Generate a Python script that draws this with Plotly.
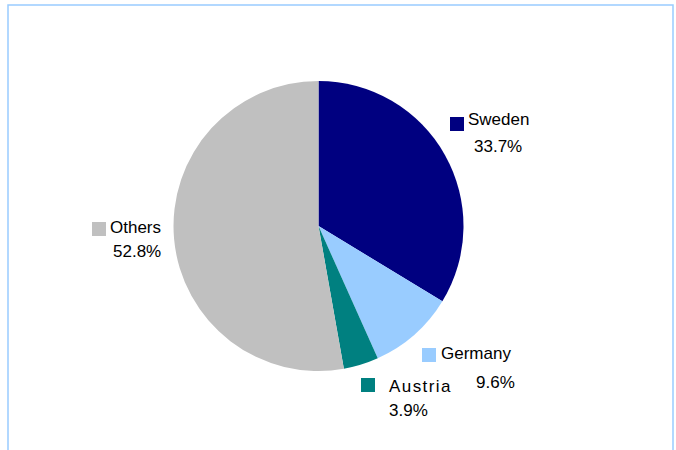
import plotly.graph_objects as go

countries = ["Sweden", "Germany", "Austria", "Others"]
shares = [33.7, 9.6, 3.9, 52.8]
colors = ["#000080", "#99CCFF", "#008080", "#C0C0C0"]

W, H = 676, 450
cx, cy, r = 318.5, 226, 145

fig = go.Figure(
    go.Pie(
        labels=countries,
        values=shares,
        sort=False,
        direction="clockwise",
        rotation=0,
        marker=dict(colors=colors, line=dict(width=0)),
        textinfo="none",
        hoverinfo="label+percent",
        domain=dict(x=[(cx - r) / W, (cx + r) / W], y=[(H - cy - r) / H, (H - cy + r) / H]),
    )
)

# label layout: (key square x, y, name x, name y, pct x, pct y) in pixels
label_pos = {
    "Sweden": (450, 117, 466, 120, 498, 146),
    "Germany": (422, 348, 439, 353, 495.5, 382),
    "Austria": (361, 378, 387, 386, 408.5, 410),
    "Others": (92, 222, 108, 227, 136.5, 251),
}


def px(x):
    return x / W


def py(y):
    return 1 - y / H


font = dict(family="Liberation Sans, Arial, sans-serif", size=17, color="#000000")
shapes = []
annotations = []
for name, val, col in zip(countries, shares, colors):
    kx, ky, nx, ny, tx, ty = label_pos[name]
    shapes.append(dict(type="rect", xref="paper", yref="paper",
                       x0=px(kx), x1=px(kx + 14), y0=py(ky), y1=py(ky + 14),
                       fillcolor=col, line=dict(width=0)))
    text = "\u200a".join(name) if name == "Austria" else name
    annotations.append(dict(text=text, x=px(nx), y=py(ny), xref="paper", yref="paper",
                            xanchor="left", yanchor="middle", showarrow=False, font=font))
    annotations.append(dict(text=f"{val:.1f}%", x=px(tx), y=py(ty), xref="paper", yref="paper",
                            xanchor="center", yanchor="middle", showarrow=False, font=font))

# light blue frame around the chart area
shapes.append(dict(type="rect", xref="paper", yref="paper",
                   x0=px(8), x1=px(673), y0=py(5), y1=-0.05,
                   line=dict(color="#99CCFF", width=1.5), fillcolor="rgba(0,0,0,0)"))

fig.update_layout(
    width=W,
    height=H,
    margin=dict(l=0, r=0, t=0, b=0),
    paper_bgcolor="#FFFFFF",
    plot_bgcolor="#FFFFFF",
    showlegend=False,
    shapes=shapes,
    annotations=annotations,
)

fig.write_html(
    "out.html",
    config={"displayModeBar": False},
    post_script="document.body.style.margin='0';document.body.style.overflow='hidden';",
)
